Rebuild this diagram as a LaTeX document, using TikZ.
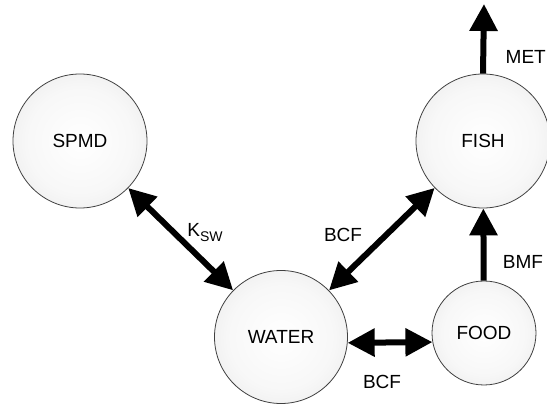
\documentclass[tikz,border=0pt]{standalone}
\usepackage{fontspec}
\setmainfont{Liberation Sans}
\usetikzlibrary{arrows.meta}

\pgfdeclareradialshading{bubble}{\pgfpoint{0bp}{0bp}}{%
  color(0bp)=(white); color(20bp)=(black!3); color(50bp)=(black!15)}

\tikzset{
  pool/.style={circle, draw=black!75, line width=0.8pt, inner sep=0pt,
    shading=bubble, font=\fontsize{19}{23}\selectfont},
  flow/.style={line width=6pt, >={Triangle[length=27pt,width=27pt]}},
  lbl/.style={font=\fontsize{19}{23}\selectfont}
}

\begin{document}
\begin{tikzpicture}[x=1pt,y=-1pt]
  \useasboundingbox (0,0) rectangle (547,406);

  \node[pool, minimum size=134pt] (spmd) at (80,141) {SPMD};
  \node[pool, minimum size=134pt] (fish) at (483,141) {FISH};
  \node[pool, minimum size=133pt] (water) at (281,337) {WATER};
  \node[pool, minimum size=104pt] (food) at (484,333) {FOOD};
  \coordinate (out) at (484,4);

  \draw[flow,<->] (spmd) -- (water);
  \draw[flow,<->] (water) -- (fish);
  \draw[flow,<->] (water.-5) -- (food.190);
  \draw[flow,->] (food) -- (fish);
  \draw[flow,->] (fish.north) -- (out);

  \node[lbl] (ksw) at (205,233) {K\raisebox{-5pt}{\fontsize{14}{14}\selectfont SW}};
  \node[lbl] (bcfup) at (343,235) {BCF};
  \node[lbl] (bcflow) at (382,382) {BCF};
  \node[lbl] (bmf) at (523,262) {BMF};
  \node[lbl, anchor=east, inner xsep=1pt] (met) at (547,57) {MET};
\end{tikzpicture}
\end{document}
